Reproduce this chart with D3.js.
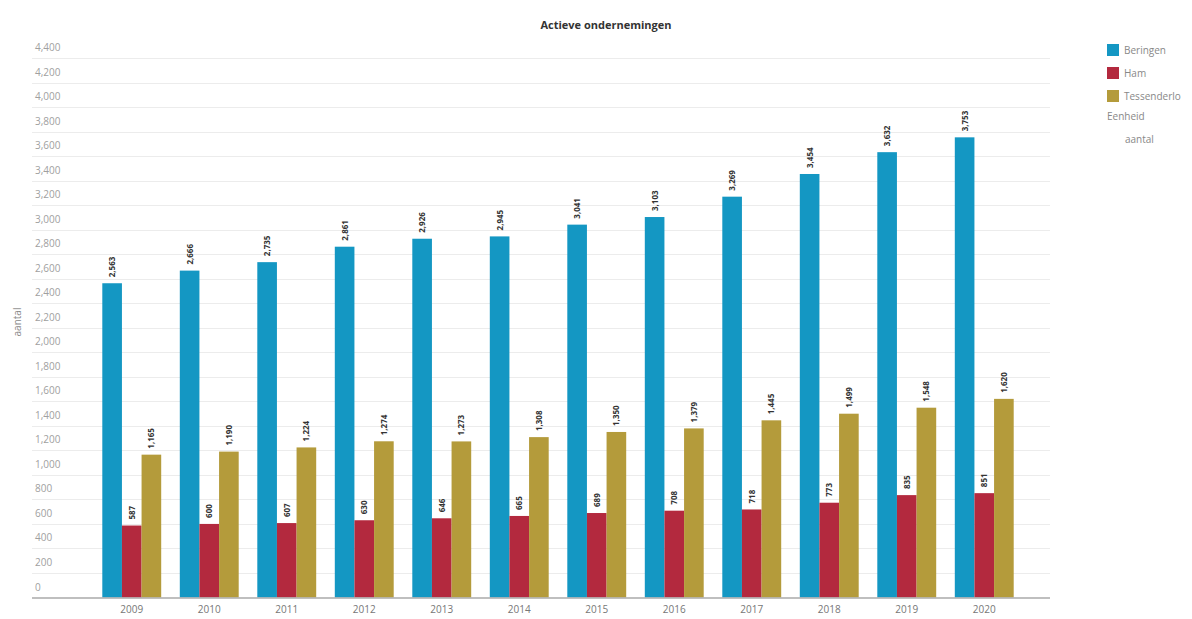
<!DOCTYPE html>
<html><head><meta charset="utf-8">
<script src="https://cdn.jsdelivr.net/npm/d3@7"></script>
<style>body{margin:0;background:#fff;font-family:"Open Sans",sans-serif;}</style>
</head><body><svg id="c" width="1192" height="619"></svg>
<script>
const years = ["2009","2010","2011","2012","2013","2014","2015","2016","2017","2018","2019","2020"];
const seriesNames = ["Beringen","Ham","Tessenderlo"];
const beringen = [2563,2666,2735,2861,2926,2945,3041,3103,3269,3454,3632,3753];
const ham = [587,600,607,630,646,665,689,708,718,773,835,851];
const tessenderlo = [1165,1190,1224,1274,1273,1308,1350,1379,1445,1499,1548,1620];
const yTicks = [0,200,400,600,800,1000,1200,1400,1600,1800,2000,2200,2400,2600,2800,3000,3200,3400,3600,3800,4000,4200,4400];
const colors = ["#1497c3","#b3293e","#b49b3b"];
const seriesData = [beringen, ham, tessenderlo];

const svg = d3.select("#c");
const fmt = d3.format(",");
const y = d3.scaleLinear().domain([0,4400]).range([597.5,58]);
const x = d3.scaleBand().domain(years).range([93,1023]).paddingInner(0.24).paddingOuter(0.12);
const xs = d3.scaleBand().domain(seriesNames).range([0,x.bandwidth()]);

// gridlines
svg.append("g").selectAll("line").data(yTicks.slice(1)).join("line")
  .attr("x1",32).attr("x2",1050).attr("y1",d=>Math.round(y(d))+0.5).attr("y2",d=>Math.round(y(d))+0.5)
  .attr("stroke","#ececec").attr("stroke-width",1);
// tick labels
svg.append("g").selectAll("text").data(yTicks).join("text")
  .attr("x",35).attr("y",d=>y(d)-7).text(d=>fmt(d))
  .attr("font-size",10).attr("fill","#a0a0a0");

// bars
seriesNames.forEach((s,i)=>{
  const g = svg.append("g");
  g.selectAll("rect").data(years).join("rect")
    .attr("x",(d)=>x(d)+xs(s)).attr("width",xs.bandwidth())
    .attr("y",(d,j)=>y(seriesData[i][j])).attr("height",(d,j)=>y(0)-y(seriesData[i][j]))
    .attr("fill",colors[i]);
  g.selectAll("text").data(years).join("text")
    .attr("transform",(d,j)=>`translate(${x(d)+xs(s)+xs.bandwidth()/2+3},${y(seriesData[i][j])-6}) rotate(-90)`)
    .attr("font-size",8).attr("font-weight","bold").attr("fill","#333")
    .text((d,j)=>fmt(seriesData[i][j]));
});

// x axis
const xa = svg.append("g").attr("transform","translate(0,597.5)").call(d3.axisBottom(x).tickSize(0).tickPadding(8));
xa.select(".domain").remove();
xa.selectAll("text").attr("font-size",10).attr("fill","#777").attr("font-family","Open Sans");
svg.append("line").attr("x1",32).attr("x2",1050).attr("y1",598).attr("y2",598).attr("stroke","#aaa").attr("stroke-width",1.5);

// y label
svg.append("text").attr("transform","translate(21,322) rotate(-90)").attr("text-anchor","middle")
  .attr("font-size",10).attr("fill","#888").text("aantal");

// title
svg.append("text").attr("x",606).attr("y",29).attr("text-anchor","middle")
  .attr("font-size",11).attr("font-weight","bold").attr("fill","#333").text("Actieve ondernemingen");

// legend
const lg = svg.append("g");
seriesNames.forEach((s,i)=>{
  lg.append("rect").attr("x",1107).attr("y",44+i*23).attr("width",12).attr("height",12).attr("fill",colors[i]);
  lg.append("text").attr("x",1124).attr("y",54+i*23).attr("font-size",10).attr("fill","#888").text(s);
});
lg.append("text").attr("x",1107).attr("y",120).attr("font-size",10).attr("fill","#888").text("Eenheid");
lg.append("text").attr("x",1125).attr("y",143).attr("font-size",10).attr("fill","#888").text("aantal");
</script></body></html>
